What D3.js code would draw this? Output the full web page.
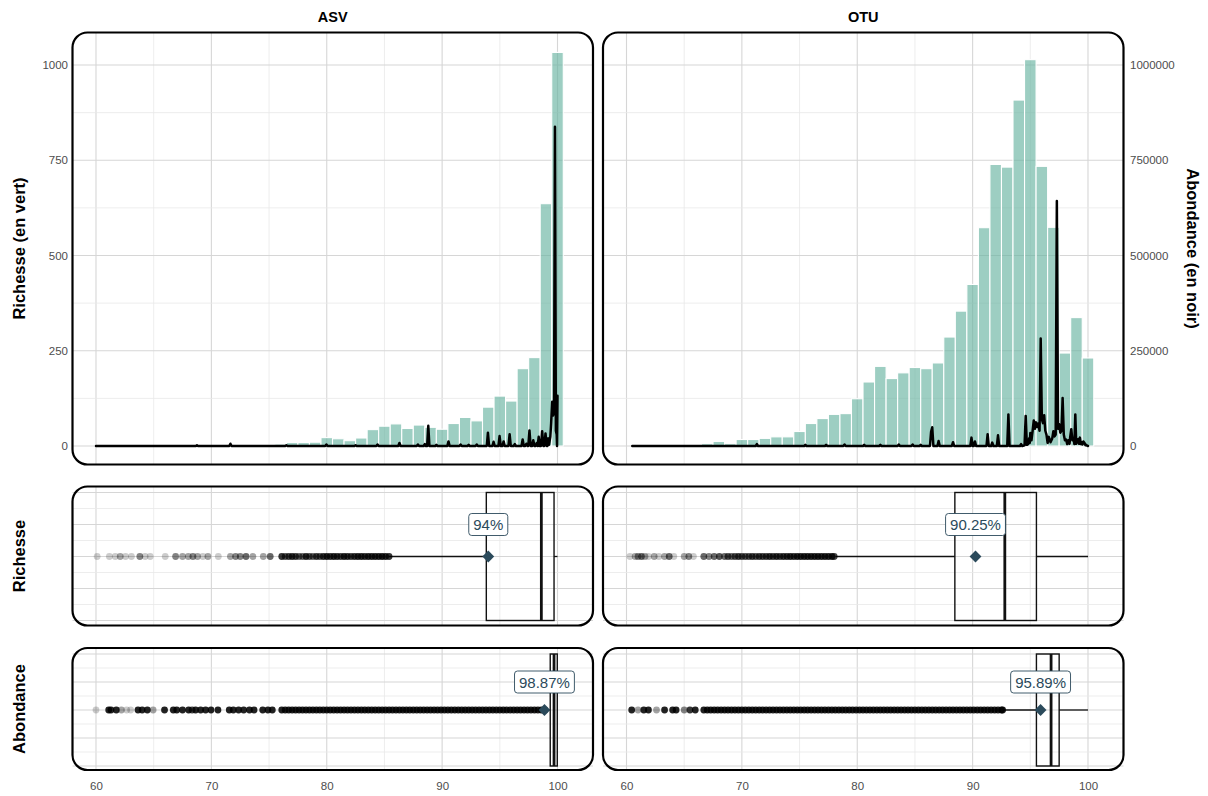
<!DOCTYPE html>
<html><head><meta charset="utf-8">
<script src="https://cdn.jsdelivr.net/npm/d3@7"></script>
<style>body{margin:0;background:#fff}svg{display:block}text{font-family:"Liberation Sans",Arial,Helvetica,sans-serif}</style>
</head><body><svg id="c" width="1208" height="796"></svg>
<script>
// ---------------- data ----------------
const facets = ["ASV", "OTU"];
const xTicks = [60, 70, 80, 90, 100];
const xGrid = [60, 65, 70, 75, 80, 85, 90, 95, 100];
const richTicks = [0, 250, 500, 750, 1000];
const richGrid = [0, 125, 250, 375, 500, 625, 750, 875, 1000];
const abundTicks = [0, 250000, 500000, 750000, 1000000];
const identityBins = [60,61,62,63,64,65,66,67,68,69,70,71,72,73,74,75,76,77,78,79,80,81,82,83,84,85,86,87,88,89,90,91,92,93,94,95,96,97,98,99,100];
const asvRichness = [0,0,1,0,0,1,0,1,1,1,1,1,2,4,1,2,5,9,9,10,22,19,14,21,43,52,58,46,55,49,44,59,75,66,102,131,118,203,232,636,1033];
const otuRichness = [0,0,0,0,0,1,1,6,12,6,17,17,20,24,24,38,59,72,83,85,124,168,209,177,192,206,203,218,286,354,424,573,739,732,908,1014,734,574,244,337,231];
// abundance profile (identity %, abundance)
const asvAbundance = [[60,0],[68.65,0],[68.75,2000],[68.85,0],[71.55,0],[71.65,6000],[71.75,0],[76.4,0],[76.5,2000],[76.6,0],[79.87,0],[79.97,4000],[80.07,0],[82.4,0],[82.5,2000],[82.6,0],[84.3,0],[84.4,4000],[84.5,0],[86.2,0],[86.3,8000],[86.4,0],[87.8,0],[87.9,4000],[88.0,0],[88.4,0],[88.5,5000],[88.6,0],[88.7,0],[88.8,53000],[88.9,0],[89.4,0],[89.5,3000],[89.6,0],[90.45,0],[90.55,12000],[90.65,0],[91.5,0],[91.6,4000],[91.7,0],[92.2,0],[92.3,3000],[92.4,0],[92.9,0],[93.0,4000],[93.1,0],[93.87,0],[93.97,35000],[94.07,0],[94.36,0],[94.46,11000],[94.56,0],[94.88,0],[94.98,26000],[95.08,0],[95.23,0],[95.33,12000],[95.43,0],[95.75,0],[95.85,31000],[95.95,0],[96.2,0],[96.3,5000],[96.4,0],[96.88,0],[96.98,17000],[97.08,0],[97.2,0],[97.3,6000],[97.4,0],[97.47,0],[97.57,41000],[97.67,0],[97.8,0],[97.9,15000],[98.0,0],[98.1,0],[98.2,8000],[98.28,0],[98.37,24000],[98.46,0],[98.57,0],[98.67,39000],[98.77,0],[98.86,0],[98.96,33000],[99.06,0],[99.12,0],[99.2,20000],[99.26,3000],[99.3,10000],[99.38,25000],[99.45,60000],[99.54,116000],[99.62,80000],[99.7,94000],[99.78,838000],[99.86,40000],[99.93,30000],[99.96,0],[100,132000]];
const otuAbundance = [[60.5,0],[71.2,0],[71.3,5000],[71.4,0],[75.4,0],[75.5,3000],[75.6,0],[77.2,0],[77.3,3000],[77.4,0],[78.8,0],[78.9,4000],[79.0,0],[80.5,0],[80.6,3000],[80.7,0],[81.9,0],[82.0,3000],[82.1,0],[83.5,0],[83.6,4000],[83.7,0],[84.7,0],[84.8,4000],[84.9,0],[85.4,0],[85.5,3000],[85.6,0],[86.3,0],[86.4,37000],[86.5,49000],[86.6,0],[86.95,0],[87.05,13000],[87.15,0],[88.2,0],[88.3,10000],[88.4,0],[89.8,0],[89.9,22000],[90.0,0],[90.1,0],[90.2,12000],[90.3,0],[91.2,0],[91.3,31000],[91.4,0],[91.6,0],[91.7,9000],[91.8,0],[92.1,0],[92.2,28000],[92.3,0],[93.0,0],[93.1,83000],[93.2,0],[94.1,0],[94.2,5000],[94.3,0],[94.5,2000],[94.6,79000],[94.7,3000],[94.8,5000],[94.9,20000],[94.95,8000],[95.0,34000],[95.1,15000],[95.2,40000],[95.3,67000],[95.4,45000],[95.5,62000],[95.6,50000],[95.7,59000],[95.8,40000],[95.9,282000],[96.0,70000],[96.1,60000],[96.2,81000],[96.3,40000],[96.4,30000],[96.5,8000],[96.6,24000],[96.75,10000],[96.9,20000],[97.0,39000],[97.1,25000],[97.2,30000],[97.3,643000],[97.4,45000],[97.5,57000],[97.6,35000],[97.7,40000],[97.8,126000],[97.9,30000],[98.0,15000],[98.1,17000],[98.2,5000],[98.3,15000],[98.4,6000],[98.45,22000],[98.55,44000],[98.65,15000],[98.75,20000],[98.82,5000],[98.9,83000],[98.98,6000],[99.05,15000],[99.15,18000],[99.22,6000],[99.3,22000],[99.38,5000],[99.45,10000],[99.52,4000],[99.6,12000],[99.7,8000],[99.78,2000],[99.85,3000],[99.92,1000],[100,0]];
// boxplots: [lower whisker, Q1, median, Q3, upper whisker]
const asvRichnessBox = [85.4, 93.83, 98.6, 99.7, 100];
const otuRichnessBox = [78.1, 88.46, 92.79, 95.53, 100];
const asvAbundanceBox = [99.2, 99.37, 99.7, 99.98, 100];
const otuAbundanceBox = [92.6, 95.53, 96.8, 97.5, 100];
const richnessMeans = [94, 90.25];
const abundanceMeans = [98.87, 95.89];
const richnessMeanLabels = ["94%", "90.25%"];
const abundanceMeanLabels = ["98.87%", "95.89%"];
// outliers: [identity, number of overlapping points]
const asvRichnessOutliers = [[60.1,1],[61.16,1],[61.67,1],[62.1,2],[62.56,1],[63.07,1],[63.8,3],[64.26,1],[64.7,1],[66.0,1],[66.9,3],[67.5,2],[68.0,2],[68.4,3],[68.8,2],[69.26,1],[69.7,2],[70.6,1],[71.65,2],[72.1,3],[72.5,3],[73.0,4],[73.6,2],[74.5,2],[75.1,4],[76.1,7],[76.4,5],[76.7,6],[77.0,7],[77.3,6],[77.6,4],[77.9,4],[78.2,7],[78.5,5],[78.8,4],[79.1,6],[79.4,5],[79.7,7],[80.0,8],[80.3,7],[80.6,8],[80.9,7],[81.2,6],[81.5,8],[81.8,7],[82.1,6],[82.4,7],[82.7,8],[83.0,8],[83.3,7],[83.6,8],[83.9,8],[84.2,8],[84.5,8],[84.8,9],[85.1,8],[85.4,7]];
const otuRichnessOutliers = [[60.3,1],[60.75,2],[61.0,3],[61.3,4],[61.6,2],[61.9,1],[62.4,2],[62.8,1],[63.3,2],[63.7,4],[64.1,1],[65.0,2],[65.4,3],[65.8,1],[66.7,4],[67.15,3],[67.6,4],[68.05,5],[68.5,4],[68.8,5],[69.1,4],[69.4,5],[69.7,6],[70.0,5],[70.3,5],[70.6,5],[70.9,6],[71.2,5],[71.5,6],[71.8,6],[72.1,6],[72.4,7],[72.7,6],[73.0,7],[73.3,6],[73.6,7],[73.9,7],[74.2,8],[74.5,7],[74.8,8],[75.1,8],[75.4,8],[75.7,8],[76.0,8],[76.3,8],[76.6,8],[76.9,8],[77.2,8],[77.5,8],[77.8,8],[78.0,6]];
const asvAbundanceOutliers = [[60.0,1],[61.1,9],[61.3,9],[61.76,9],[62.2,2],[62.66,1],[63.0,1],[63.64,9],[64.0,9],[64.45,9],[64.95,2],[65.94,9],[66.7,9],[67.0,9],[67.5,9],[68.03,9],[68.33,6],[68.63,9],[69.07,9],[69.5,9],[69.97,9],[70.57,9],[71.55,9],[71.9,9],[72.36,9],[72.8,9],[73.3,9],[73.7,9],[74.45,9],[74.9,9],[75.28,9],[76.1,9],[76.4,9],[76.7,9],[77.0,9],[77.3,9],[77.6,9],[77.9,9],[78.2,9],[78.5,9],[78.8,9],[79.1,9],[79.4,9],[79.7,9],[80.0,9],[80.3,9],[80.6,9],[80.9,9],[81.2,9],[81.5,9],[81.8,9],[82.1,9],[82.4,9],[82.7,9],[83.0,9],[83.3,9],[83.6,9],[83.9,9],[84.2,9],[84.5,9],[84.8,9],[85.1,9],[85.4,9],[85.7,9],[86.0,9],[86.3,9],[86.6,9],[86.9,9],[87.2,9],[87.5,9],[87.8,9],[88.1,9],[88.4,9],[88.7,9],[89.0,9],[89.3,9],[89.6,9],[89.9,9],[90.2,9],[90.5,9],[90.8,9],[91.1,9],[91.4,9],[91.7,9],[92.0,9],[92.3,9],[92.6,9],[92.9,9],[93.2,9],[93.5,9],[93.8,9],[94.1,9],[94.4,9],[94.7,9],[95.0,9],[95.3,9],[95.6,9],[95.9,9],[96.2,9],[96.5,9],[96.8,9],[97.1,9],[97.4,9],[97.7,9],[98.0,9],[98.3,9],[98.6,9],[98.9,9]];
const otuAbundanceOutliers = [[60.45,9],[61.0,2],[61.5,9],[61.9,9],[62.6,2],[63.3,9],[64.0,9],[64.3,9],[65.0,3],[65.5,7],[65.96,9],[66.7,9],[67.0,9],[67.3,9],[67.6,9],[67.9,9],[68.2,9],[68.5,9],[68.8,9],[69.1,9],[69.4,9],[69.7,9],[70.0,9],[70.3,9],[70.6,9],[70.9,9],[71.2,9],[71.5,9],[71.8,9],[72.1,9],[72.4,9],[72.7,9],[73.0,9],[73.3,9],[73.6,9],[73.9,9],[74.2,9],[74.5,9],[74.8,9],[75.1,9],[75.4,9],[75.7,9],[76.0,9],[76.3,9],[76.6,9],[76.9,9],[77.2,9],[77.5,9],[77.8,9],[78.1,9],[78.4,9],[78.7,9],[79.0,9],[79.3,9],[79.6,9],[79.9,9],[80.2,9],[80.5,9],[80.8,9],[81.1,9],[81.4,9],[81.7,9],[82.0,9],[82.3,9],[82.6,9],[82.9,9],[83.2,9],[83.5,9],[83.8,9],[84.1,9],[84.4,9],[84.7,9],[85.0,9],[85.3,9],[85.6,9],[85.9,9],[86.2,9],[86.5,9],[86.8,9],[87.1,9],[87.4,9],[87.7,9],[88.0,9],[88.3,9],[88.6,9],[88.9,9],[89.2,9],[89.5,9],[89.8,9],[90.1,9],[90.4,9],[90.7,9],[91.0,9],[91.3,9],[91.6,9],[91.9,9],[92.2,9],[92.5,9],[92.6,9]];
const boxGrid = [-0.4,-0.3,-0.2,-0.1,0,0.1,0.2,0.3,0.4];

// ---------------- layout ----------------
const svg = d3.select("#c");
const panelL = [72.5, 603], panelR = [593, 1123.5];
const xL = [96, 626.5], xR = [557.5, 1088];
const rowT = [32.5, 486.5, 648], rowB = [464.5, 625.5, 770];
const MAJ = "#d6d6d6", MIN = "#e9e9e9", SLATE = "#2b4a5b", TICK = "#4d4d4d";
const yTop = d3.scaleLinear().domain([0, 1000]).range([446, 65]);
const yMid = d3.scaleLinear().domain([-0.4, 0.4]).range([620.5, 492.5]);
const yBot = d3.scaleLinear().domain([-0.4, 0.4]).range([766, 654]);

const richData = [asvRichness, otuRichness];
const lineData = [asvAbundance, otuAbundance];
const richBoxes = [asvRichnessBox, otuRichnessBox];
const abBoxes = [asvAbundanceBox, otuAbundanceBox];
const richOut = [asvRichnessOutliers, otuRichnessOutliers];
const abOut = [asvAbundanceOutliers, otuAbundanceOutliers];

function vGrid(g, x, t, b) {
  g.selectAll(null).data(xGrid).join("line")
    .attr("x1", d => x(d)).attr("x2", d => x(d)).attr("y1", t).attr("y2", b)
    .attr("stroke", d => d % 10 === 0 ? MAJ : MIN).attr("stroke-width", d => d % 10 === 0 ? 1.1 : 0.8);
}
function hGrid(g, y, vals, l, r, majorFn) {
  g.selectAll(null).data(vals).join("line")
    .attr("x1", l).attr("x2", r).attr("y1", d => y(d)).attr("y2", d => y(d))
    .attr("stroke", d => majorFn(d) ? MAJ : MIN).attr("stroke-width", d => majorFn(d) ? 1.1 : 0.8);
}
function border(g, i, r) {
  g.append("rect").attr("x", panelL[i]).attr("y", rowT[r])
    .attr("width", panelR[i] - panelL[i]).attr("height", rowB[r] - rowT[r])
    .attr("rx", 15).attr("ry", 15).attr("fill", "none").attr("stroke", "#000").attr("stroke-width", 2.2);
}
function boxPanel(g, x, y, box, out, mean, lab, i, r) {
  vGrid(g, x, rowT[r], rowB[r]);
  hGrid(g, y, boxGrid, panelL[i], panelR[i], d => Math.abs(Math.round(d * 10)) % 2 === 0);
  const c = y(0);
  g.append("line").attr("x1", x(box[0])).attr("x2", x(box[1])).attr("y1", c).attr("y2", c).attr("stroke", "#111").attr("stroke-width", 1.3);
  g.append("line").attr("x1", x(box[3])).attr("x2", x(box[4])).attr("y1", c).attr("y2", c).attr("stroke", "#111").attr("stroke-width", 1.3);
  g.append("rect").attr("x", x(box[1])).attr("y", y(0.4)).attr("width", x(box[3]) - x(box[1])).attr("height", y(-0.4) - y(0.4))
    .attr("fill", "none").attr("stroke", "#111").attr("stroke-width", 1.4);
  g.append("line").attr("x1", x(box[2])).attr("x2", x(box[2])).attr("y1", y(0.4)).attr("y2", y(-0.4)).attr("stroke", "#111").attr("stroke-width", 2.8);
  g.selectAll(null).data(out).join("circle")
    .attr("cx", d => x(d[0])).attr("cy", c).attr("r", 3.4)
    .attr("fill", "#000").attr("fill-opacity", d => 1 - Math.pow(0.8, d[1]));
  g.append("path").attr("d", d3.symbol(d3.symbolSquare, 70)())
    .attr("transform", `translate(${x(mean)},${c}) rotate(45)`).attr("fill", SLATE);
  const ly = y(0.2);
  const t = g.append("text").attr("x", x(mean)).attr("y", ly).attr("text-anchor", "middle")
    .attr("dominant-baseline", "central").attr("font-size", 15).attr("fill", SLATE).text(lab);
  const bb = t.node().getBBox();
  g.insert("rect", () => t.node()).attr("x", bb.x - 4.5).attr("y", ly - 11).attr("width", bb.width + 9).attr("height", 22)
    .attr("rx", 3).attr("fill", "#fff").attr("stroke", SLATE).attr("stroke-width", 0.9);
  border(g, i, r);
}
function styleAxis(a) {
  a.select(".domain").remove();
  a.attr("font-family", null).attr("font-size", null);
  a.selectAll("text").attr("font-size", 11.5).style("fill", TICK);
}

facets.forEach((f, i) => {
  const x = d3.scaleLinear().domain([60, 100]).range([xL[i], xR[i]]);
  // ---- top histogram panel ----
  const g = svg.append("g");
  vGrid(g, x, rowT[0], rowB[0]);
  hGrid(g, yTop, richGrid, panelL[i], panelR[i], d => d % 250 === 0);
  g.selectAll(null).data(identityBins.map((b, k) => [b, richData[i][k]]).filter(d => d[1] > 0)).join("rect")
    .attr("x", d => x(d[0] - 0.5)).attr("width", d => x(d[0] + 0.5) - x(d[0] - 0.5))
    .attr("y", d => yTop(d[1])).attr("height", d => yTop(0) - yTop(d[1]))
    .attr("fill", "#69b3a2").attr("fill-opacity", 0.65).attr("stroke", "#fff").attr("stroke-width", 1.1);
  g.append("path").datum(lineData[i])
    .attr("d", d3.line().x(d => x(d[0])).y(d => yTop(d[1] / 1000)))
    .attr("fill", "none").attr("stroke", "#000").attr("stroke-width", 2.5).attr("stroke-linejoin", "round").attr("stroke-linecap", "round");
  border(g, i, 0);
  // strip
  svg.append("text").attr("x", (panelL[i] + panelR[i]) / 2).attr("y", 17).attr("text-anchor", "middle")
    .attr("dominant-baseline", "central").attr("font-size", 14.5).attr("font-weight", "bold").attr("fill", "#000").text(f);
  // ---- middle & bottom boxplots ----
  boxPanel(svg.append("g"), x, yMid, richBoxes[i], richOut[i], richnessMeans[i], richnessMeanLabels[i], i, 1);
  boxPanel(svg.append("g"), x, yBot, abBoxes[i], abOut[i], abundanceMeans[i], abundanceMeanLabels[i], i, 2);
  // x axis labels
  const ax = svg.append("g").attr("transform", `translate(0,${rowB[2]})`)
    .call(d3.axisBottom(x).tickValues(xTicks).tickSize(0).tickPadding(12).tickFormat(d3.format("d")));
  styleAxis(ax);
});

// left axis (ASV) and right axis (OTU)
const la = svg.append("g").attr("transform", `translate(${panelL[0]},0)`)
  .call(d3.axisLeft(yTop).tickValues(richTicks).tickSize(0).tickPadding(4.5).tickFormat(d3.format("d")));
styleAxis(la);
const yAb = d3.scaleLinear().domain([0, 1000000]).range(yTop.range());
const ra = svg.append("g").attr("transform", `translate(${panelR[1]},0)`)
  .call(d3.axisRight(yAb).tickValues(abundTicks).tickSize(0).tickPadding(6.5).tickFormat(d3.format("d")));
styleAxis(ra);

// axis titles
function title(txt, x, y, rot) {
  svg.append("text").attr("transform", `translate(${x},${y}) rotate(${rot})`).attr("text-anchor", "middle")
    .attr("dominant-baseline", "central").attr("font-size", 16.5).attr("font-weight", "bold").attr("fill", "#000").text(txt);
}
title("Richesse (en vert)", 19, (rowT[0] + rowB[0]) / 2, -90);
title("Richesse", 19, (rowT[1] + rowB[1]) / 2, -90);
title("Abondance", 19, (rowT[2] + rowB[2]) / 2, -90);
title("Abondance (en noir)", 1193, (rowT[0] + rowB[0]) / 2, 90);
</script></body></html>
